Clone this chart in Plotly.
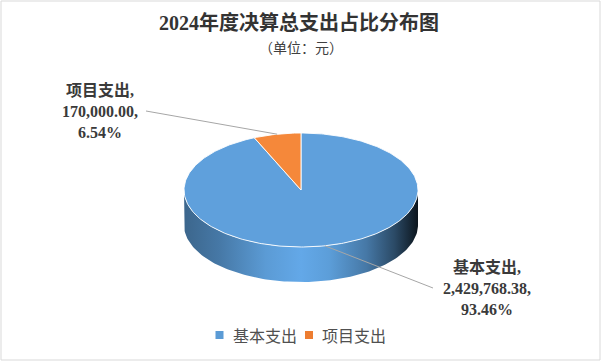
import numpy as np
import plotly.graph_objects as go

# ---- data -------------------------------------------------------------
categories = ["基本支出", "项目支出"]
amounts = [2429768.38, 170000.00]
title_text = "2024年度决算总支出占比分布图"
subtitle_text = "（单位：元）"

# ---- styling / geometry ----------------------------------------------
W, H = 602, 362
cx, cy, rx, ry, depth = 301, 190, 117, 57, 35
top_colors = ["#5fa0dc", "#f5883a"]
base_colors = [(91, 155, 213), (237, 125, 49)]
legend_colors = ["#5b9bd5", "#ed7d31"]
label_pos = [(487, 288), (100, 111)]      # label centres
leader_end = [(433, 288), (146, 111)]     # where leader lines meet labels
legend_sq_x = [219.5, 309]                # legend swatch centres
legend_y = 335
serif = "Liberation Serif, Times New Roman, Noto Sans CJK SC, serif"
cjk = "Noto Sans CJK SC"
text_col = "#3a3a3a"

total = sum(amounts)
shares = [a / total for a in amounts]


def ell(theta_deg, dy=0.0):
    t = np.radians(theta_deg)
    return cx + rx * np.cos(t), cy - ry * np.sin(t) + dy


def shade_scale(rgb):
    # horizontal lighting across the cylinder wall
    stops = [(0.0, 0.66), (0.15, 0.78), (0.35, 1.0), (0.5, 1.09),
             (0.62, 1.02), (0.78, 0.78), (0.9, 0.48), (1.0, 0.14)]
    out = []
    for p, f in stops:
        c = [int(min(255, max(0, v * f))) for v in rgb]
        out.append([p, f"rgb({c[0]},{c[1]},{c[2]})"])
    return out


# slice angle bounds, clockwise from 12 o'clock
bounds = []
start = 90.0
for s in shares:
    end = start - 360.0 * s
    bounds.append((start, end))
    start = end

fig = go.Figure()

# side walls: only the front half of the disc is visible
for (a0, a1), rgb in zip(bounds, base_colors):
    for wlo, whi in ((-180.0, 0.0), (-540.0, -360.0)):
        lo, hi = max(a1, wlo), min(a0, whi)
        if hi <= lo:
            continue
        t_top = np.linspace(hi, lo, 120)
        t_bot = t_top[::-1]
        xt, yt = ell(t_top)
        xb, yb = ell(t_bot, depth)
        fig.add_trace(go.Scatter(
            x=np.concatenate([xt, xb, xt[:1]]),
            y=np.concatenate([yt, yb, yt[:1]]),
            mode="lines", fill="toself", line=dict(width=0),
            fillgradient=dict(type="horizontal", colorscale=shade_scale(rgb),
                              start=cx - rx, stop=cx + rx),
            hoverinfo="skip", showlegend=False))

# top faces
for (a0, a1), col, name, amt in zip(bounds, top_colors, categories, amounts):
    n = max(8, int(abs(a0 - a1)))
    t = np.linspace(a0, a1, n)
    xa, ya = ell(t)
    fig.add_trace(go.Scatter(
        x=np.concatenate([[cx], xa, [cx]]),
        y=np.concatenate([[cy], ya, [cy]]),
        mode="lines", fill="toself", fillcolor=col,
        line=dict(color="rgba(255,255,255,0.9)", width=1),
        name=name, hoverinfo="text",
        text=f"{name}: {amt:,.2f}", showlegend=False))

# leader lines and data labels
for (a0, a1), name, amt, sh, (lx, ly), (ex, ey) in zip(
        bounds, categories, amounts, shares, label_pos, leader_end):
    mx, my = ell((a0 + a1) / 2)
    fig.add_trace(go.Scatter(x=[mx, ex], y=[my, ey], mode="lines",
                             line=dict(color="#a6a6a6", width=1),
                             hoverinfo="skip", showlegend=False))
    fig.add_annotation(
        x=lx, y=ly, xref="x", yref="y", showarrow=False, align="center",
        text=f"{name},<br>{amt:,.2f},<br>{sh * 100:.2f}%",
        font=dict(family=serif, size=16, color=text_col, weight="bold"))

# legend: swatches plus names
fig.add_trace(go.Scatter(
    x=legend_sq_x, y=[legend_y] * len(categories), mode="markers",
    marker=dict(symbol="square", size=8, color=legend_colors),
    hoverinfo="skip", showlegend=False))
for name, sx in zip(categories, legend_sq_x):
    fig.add_annotation(x=sx + 11, y=legend_y, xref="x", yref="y",
                       xanchor="left", showarrow=False, text=name,
                       font=dict(family=cjk, size=16, color="#505050"))

# titles
fig.add_annotation(x=W / 2 - 2, y=23, xref="x", yref="y", showarrow=False,
                   text=f"<b>{title_text}</b>",
                   font=dict(family=serif, size=20, color="#333333"))
fig.add_annotation(x=W / 2, y=47, xref="x", yref="y", showarrow=False,
                   text=subtitle_text,
                   font=dict(family=cjk, size=14, color="#404040"))

# outer frame
fig.add_shape(type="rect", x0=1, y0=1, x1=600, y1=360, xref="x", yref="y",
              line=dict(color="#d9d9d9", width=1))

fig.update_layout(
    width=W, height=H, autosize=False,
    margin=dict(l=0, r=0, t=0, b=0),
    paper_bgcolor="white", plot_bgcolor="white",
    showlegend=False,
    xaxis=dict(range=[0, W], visible=False, fixedrange=True),
    yaxis=dict(range=[H, 0], visible=False, fixedrange=True),
)

fig.write_html("out.html")
